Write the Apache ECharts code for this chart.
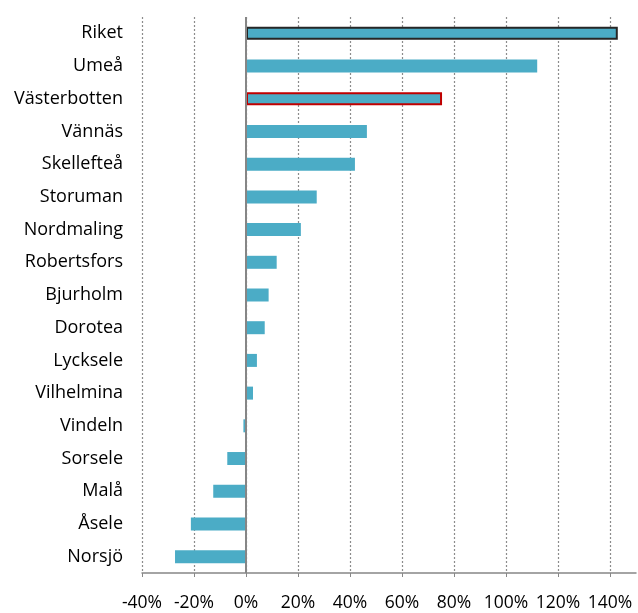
<!DOCTYPE html>
<html>
<head>
<meta charset="utf-8">
<script src="https://cdn.jsdelivr.net/npm/echarts@6/dist/echarts.min.js"></script>
<style>
  html, body { margin: 0; padding: 0; background: #fff; }
  #main { width: 638px; height: 613px; }
</style>
</head>
<body>
<div id="main"></div>
<script>
// kommuner, uppifrån och ned
const kommuner = ['Riket', 'Umeå', 'Västerbotten', 'Vännäs', 'Skellefteå', 'Storuman', 'Nordmaling',
  'Robertsfors', 'Bjurholm', 'Dorotea', 'Lycksele', 'Vilhelmina', 'Vindeln', 'Sorsele', 'Malå', 'Åsele', 'Norsjö'];
// förändring (andel)
const forandring = [1.43, 1.12, 0.754, 0.465, 0.419, 0.272, 0.211,
  0.118, 0.087, 0.072, 0.042, 0.027, -0.01, -0.072, -0.126, -0.212, -0.273];
// markerade staplar
const markerade = { 'Riket': '#262626', 'Västerbotten': '#C00000' };

let myChart = echarts.init(document.getElementById('main'));

const seriesData = forandring.map((v, i) => {
  const kant = markerade[kommuner[i]];
  if (!kant) return v;
  return { value: v, itemStyle: { borderColor: kant, borderWidth: 2 } };
});

myChart.setOption({
  animation: false,
  textStyle: { fontFamily: 'Open Sans' },
  grid: { left: 142, right: 2, top: 17, bottom: 40 },
  xAxis: {
    type: 'value',
    min: -0.4,
    max: 1.5,
    interval: 0.2,
    axisLine: { show: true, lineStyle: { color: '#878787', width: 1.5 } },
    axisTick: { show: true, length: 4, lineStyle: { color: '#878787' } },
    axisLabel: {
      color: '#000',
      fontSize: 17.5,
      margin: 21,
      showMaxLabel: false,
      formatter: v => (v > 1.45 ? '' : Math.round(v * 100) + '%')
    },
    splitLine: {
      show: true,
      showMaxLine: false,
      lineStyle: { color: '#8c8c8c', type: [2, 2], width: 1.2 }
    }
  },
  yAxis: {
    type: 'category',
    inverse: true,
    data: kommuner,
    axisLine: { show: false, onZero: false },
    axisTick: { show: false },
    axisLabel: { color: '#000', fontSize: 18, margin: 19 }
  },
  series: [{
    type: 'bar',
    data: seriesData,
    barWidth: 13,
    itemStyle: { color: '#4BACC6' },
    markLine: {
      silent: true,
      symbol: 'none',
      label: { show: false },
      lineStyle: { color: '#868686', type: 'solid', width: 2 },
      data: [{ xAxis: 0 }]
    }
  }]
});
</script>
</body>
</html>
